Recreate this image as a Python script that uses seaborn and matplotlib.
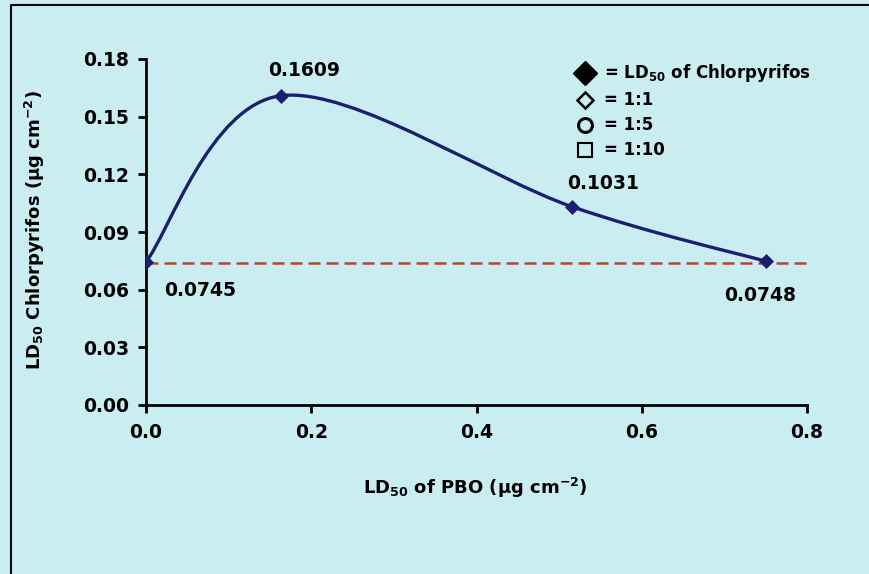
# %% Imports
import numpy as np
import pandas as pd
import seaborn as sns
import matplotlib.pyplot as plt
from matplotlib.path import Path
from matplotlib.patches import PathPatch
from matplotlib.lines import Line2D

# %% Data
pbo_ld50 = [0.0, 0.163, 0.516, 0.750]  # ug cm-2
chlor_ld50 = [0.0745, 0.1609, 0.1031, 0.0748]  # ug cm-2
point_labels = ["0.0745", "0.1609", "0.1031", "0.0748"]
reference_ld50 = 0.074  # LD50 of chlorpyrifos alone (dashed line)
legend_labels = ["= LD$_{50}$ of Chlorpyrifos", "= 1:1", "= 1:5", "= 1:10"]
xticks = [0.0, 0.2, 0.4, 0.6, 0.8]
yticks = [0.00, 0.03, 0.06, 0.09, 0.12, 0.15, 0.18]

NAVY = "#1b1f6e"
BG = "#caedf1"


# %%
def smooth_path(x, y):
    """Bezier path through the points, like a spreadsheet 'smoothed line'."""
    pts = np.column_stack([x, y])
    n = len(pts)
    verts = [pts[0]]
    codes = [Path.MOVETO]
    for i in range(n - 1):
        p0 = pts[max(i - 1, 0)]
        p1 = pts[i]
        p2 = pts[i + 1]
        p3 = pts[min(i + 2, n - 1)]
        verts += [p1 + (p2 - p0) / 6, p2 - (p3 - p1) / 6, p2]
        codes += [Path.CURVE4] * 3
    return Path(verts, codes)


def plot_chart():
    sns.set_style("ticks")
    plt.rcParams["font.family"] = ["DejaVu Sans"]
    plt.rcParams["font.weight"] = "bold"
    plt.rcParams["axes.labelweight"] = "bold"
    plt.rcParams["mathtext.fontset"] = "custom"
    plt.rcParams["mathtext.rm"] = "DejaVu Sans:bold"
    plt.rcParams["mathtext.default"] = "rm"
    plt.rcParams["text.color"] = "black"
    plt.rcParams["axes.labelcolor"] = "black"
    plt.rcParams["xtick.color"] = "black"
    plt.rcParams["ytick.color"] = "black"

    fig = plt.figure(figsize=(8.7, 5.74), dpi=100, facecolor=BG)
    ax = fig.add_axes([146 / 870, 1 - 405 / 574, 661 / 870, 346 / 574])
    ax.set_facecolor("none")

    df = pd.DataFrame({"pbo": pbo_ld50, "chlor": chlor_ld50})

    # reference line
    ax.plot([xticks[0], xticks[-1]], [reference_ld50] * 2, color="#b5452a",
            lw=1.8, ls=(0, (4.8, 2.4)), zorder=1)

    # smoothed curve + diamonds
    ax.add_patch(PathPatch(smooth_path(df.pbo, df.chlor), facecolor="none",
                           edgecolor=NAVY, lw=2.4, zorder=2))
    sns.scatterplot(data=df, x="pbo", y="chlor", marker="D", s=50, color=NAVY,
                    edgecolor=NAVY, zorder=3, ax=ax, legend=False)

    offsets = [(54, -29), (23, 25), (31, 23), (-6, -34)]
    for xv, yv, lab, off in zip(pbo_ld50, chlor_ld50, point_labels, offsets):
        ax.annotate(lab, (xv, yv), xytext=off, textcoords="offset pixels",
                    ha="center", va="center", fontsize=13.5)

    ax.set_xlim(xticks[0], xticks[-1])
    ax.set_ylim(yticks[0], yticks[-1])
    ax.set_xticks(xticks)
    ax.set_yticks(yticks)
    ax.set_xticklabels([f"{v:.1f}" for v in xticks])
    ax.set_yticklabels([f"{v:.2f}" for v in yticks])
    sns.despine(ax=ax)
    for s in ["left", "bottom"]:
        ax.spines[s].set_linewidth(2)
        ax.spines[s].set_color("black")
    ax.tick_params(axis="both", direction="out", length=6, width=2,
                   labelsize=13.5)
    ax.tick_params(axis="x", pad=7)
    ax.tick_params(axis="y", pad=6)

    ax.set_xlabel("LD$_{50}$ of PBO (µg cm$^{-2}$)", fontsize=13, fontweight="bold")
    ax.set_ylabel("LD$_{50}$ Chlorpyrifos (µg cm$^{-2}$)", fontsize=13, fontweight="bold")
    ax.xaxis.set_label_coords(0.498, -0.205)
    ax.yaxis.set_label_coords(-0.15, 0.506)

    handles = [
        Line2D([], [], ls="", marker="D", ms=12, color="black"),
        Line2D([], [], ls="", marker="D", ms=8, mfc="none", mec="black", mew=1.8),
        Line2D([], [], ls="", marker="o", ms=10, mfc="none", mec="black", mew=2.2),
        Line2D([], [], ls="", marker="s", ms=10, mfc="none", mec="black", mew=1.5),
    ]
    ax.legend(handles, legend_labels, loc="upper left", bbox_to_anchor=(0.652, 0.99),
              frameon=False, fontsize=12, handlelength=1.0, handletextpad=0.6,
              labelspacing=0.42, borderpad=0, borderaxespad=0)

    # frame of the original panel (left and top edges)
    fig.add_artist(Line2D([11 / 870, 11 / 870, 1], [0, 1 - 5 / 574, 1 - 5 / 574],
                          transform=fig.transFigure, color="black", lw=1.5))

    fig.savefig("out.png", dpi=100, facecolor=BG)


if __name__ == "__main__":
    plot_chart()
